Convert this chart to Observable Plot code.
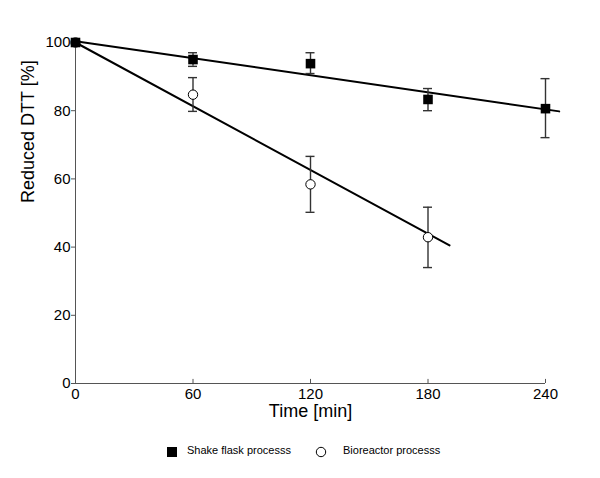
<!DOCTYPE html>
<html>
<head>
<meta charset="utf-8">
<script src="https://cdn.jsdelivr.net/npm/d3@7"></script>
<script src="https://cdn.jsdelivr.net/npm/@observablehq/plot@0.6"></script>
<style>
  body { margin: 0; background: #fff; font-family: "Liberation Sans", Arial, sans-serif; }
  #legend { position: relative; width: 600px; height: 40px; font-size: 11px; color: #000; }
  .sym { position: absolute; top: 11px; }
  .lab { position: absolute; top: 8px; line-height: 14px; white-space: nowrap; }
</style>
</head>
<body>
<div id="chart"></div>
<div id="legend">
  <svg class="sym" style="left:166px" width="12" height="12"><rect x="1" y="1" width="10" height="10" fill="#000"/></svg>
  <span class="lab" style="left:187px">Shake flask processs</span>
  <svg class="sym" style="left:315px" width="12" height="12"><circle cx="6" cy="6" r="4.7" fill="#fff" stroke="#000" stroke-width="1"/></svg>
  <span class="lab" style="left:343px">Bioreactor processs</span>
</div>
<script>
// ---- data ----
const time = [0, 60, 120, 180, 240];
const shakeMean = [100, 95.0, 93.8, 83.3, 80.6];
const shakeLow  = [100, 93.0, 90.9, 80.0, 72.1];
const shakeHigh = [100, 97.0, 97.0, 86.5, 89.4];

const bioTime = [0, 60, 120, 180];
const bioMean = [100, 84.7, 58.4, 42.9];
const bioLow  = [100, 79.8, 50.2, 34.0];
const bioHigh = [100, 89.7, 66.6, 51.7];

const shakeFitT = [0, 247];
const shakeFitY = [100.4, 79.8];
const bioFitT = [0, 191];
const bioFitY = [100, 40.5];

const xTicks = [0, 60, 120, 180, 240];
const yTicks = [0, 20, 40, 60, 80, 100];
const xLabel = "Time [min]";
const yLabel = "Reduced DTT [%]";

// ---- tables ----
const shake = time.map((t, i) => ({t, y: shakeMean[i], lo: shakeLow[i], hi: shakeHigh[i]}));
const bio = bioTime.map((t, i) => ({t, y: bioMean[i], lo: bioLow[i], hi: bioHigh[i]}));
const shakeFit = shakeFitT.map((t, i) => ({t, y: shakeFitY[i]}));
const bioFit = bioFitT.map((t, i) => ({t, y: bioFitY[i]}));
const errs = [...shake.slice(1), ...bio.slice(1)];
const cap = 2.3;

const chart = Plot.plot({
  width: 600,
  height: 435,
  marginLeft: 75,
  marginRight: 55,
  marginTop: 42,
  marginBottom: 52,
  style: {fontFamily: "Liberation Sans, Arial, sans-serif", background: "#fff"},
  x: {domain: [0, 240]},
  y: {domain: [0, 100]},
  marks: [
    Plot.ruleY([0], {stroke: "#555", strokeWidth: 1}),
    Plot.ruleX([0], {stroke: "#555", strokeWidth: 1}),
    Plot.ruleX(xTicks, {x: d => d, y1: 0, y2: 1.2, stroke: "#555"}),
    Plot.axisX({ticks: xTicks, tickSize: 0, tickPadding: 5, fontSize: 15, label: null, tickFormat: d => d, color: "#000"}),
    Plot.axisY({ticks: yTicks, tickSize: 4, tickPadding: 1, fontSize: 15, label: null, stroke: "#555", color: "#000"}),
    Plot.text([yLabel], {frameAnchor: "left", rotate: -90, dx: -47, dy: -10, fontSize: 18, fill: "#000"}),
    Plot.text([xLabel], {frameAnchor: "bottom", dy: 33, fontSize: 18, fill: "#000"}),
    Plot.line(shakeFit, {x: "t", y: "y", stroke: "#000", strokeWidth: 2}),
    Plot.line(bioFit, {x: "t", y: "y", stroke: "#000", strokeWidth: 2}),
    Plot.ruleX(errs, {x: "t", y1: "lo", y2: "hi", stroke: "#333", strokeWidth: 1.4}),
    Plot.ruleY(errs, {y: "lo", x1: d => d.t - cap, x2: d => d.t + cap, stroke: "#333", strokeWidth: 1.4}),
    Plot.ruleY(errs, {y: "hi", x1: d => d.t - cap, x2: d => d.t + cap, stroke: "#333", strokeWidth: 1.4}),
    Plot.dot(bio, {x: "t", y: "y", r: 4.7, fill: "#fff", stroke: "#000", strokeWidth: 1}),
    Plot.dot(shake, {x: "t", y: "y", symbol: "square", r: 5.4, fill: "#000", stroke: "none"})
  ]
});
document.getElementById("chart").appendChild(chart);
</script>
</body>
</html>
